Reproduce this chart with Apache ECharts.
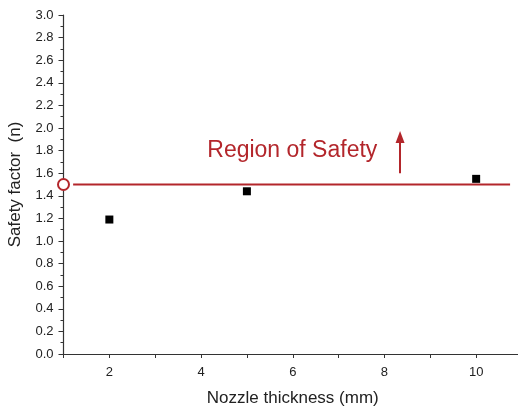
<!DOCTYPE html>
<html>
<head>
<meta charset="utf-8">
<script src="https://cdn.jsdelivr.net/npm/echarts@6/dist/echarts.min.js"></script>
<style>
  html, body { margin: 0; padding: 0; background: #fff; overflow: hidden; }
  #chart { width: 522px; height: 409px; }
</style>
</head>
<body>
<div id="chart"></div>
<script>
  // nozzle thickness (mm) and safety factor
  var thickness = [2, 5, 10];
  var safety = [1.19, 1.44, 1.55];
  var limitValue = 1.5;
  var limitStart = 1.21;
  var limitEnd = 10.74;
  var xTicks = [2, 4, 6, 8, 10];

  var red = '#b3262b';
  var chart = echarts.init(document.getElementById('chart'));

  chart.setOption({
    animation: false,
    textStyle: { fontFamily: 'Liberation Sans, Arial, sans-serif' },
    grid: { left: 63.5, right: 0, top: 15, bottom: 55, outerBoundsMode: 'none', containLabel: false },
    xAxis: {
      type: 'value',
      min: 1,
      max: 11,
      interval: 1,
      name: 'Nozzle thickness (mm)',
      nameLocation: 'middle',
      nameGap: 36,
      nameTextStyle: { fontSize: 17, color: '#222' },
      axisLine: { onZero: false, lineStyle: { color: '#333', width: 1.2 } },
      axisTick: { length: 4, lineStyle: { color: '#333' } },
      axisLabel: {
        fontSize: 13, color: '#222', margin: 12,
        formatter: function (v) { return xTicks.indexOf(v) >= 0 ? String(v) : ''; }
      },
      splitLine: { show: false }
    },
    yAxis: {
      type: 'value',
      min: 0,
      max: 3,
      interval: 0.2,
      name: 'Safety factor  (n)',
      nameLocation: 'middle',
      nameGap: 40,
      nameTextStyle: { fontSize: 17, color: '#222' },
      axisLine: { show: true, lineStyle: { color: '#333', width: 1.2 } },
      axisTick: { length: 5, lineStyle: { color: '#333' } },
      minorTick: { show: true, splitNumber: 2, length: 3, lineStyle: { color: '#333' } },
      axisLabel: {
        fontSize: 13, color: '#222', margin: 10,
        formatter: function (v) { return v.toFixed(1); }
      },
      splitLine: { show: false }
    },
    series: [
      {
        type: 'line',
        data: [[limitStart, limitValue], [limitEnd, limitValue]],
        symbol: 'none',
        lineStyle: { color: red, width: 2 },
        markLine: {
          silent: true,
          symbol: ['none', 'triangle'],
          symbolSize: [9, 12],
          label: { show: false },
          lineStyle: { color: red, width: 2, type: 'solid' },
          data: [[{ coord: [8.34, 1.6] }, { coord: [8.34, 1.92] }]]
        },
        markPoint: {
          symbol: 'circle',
          symbolSize: 0,
          label: {
            show: true,
            formatter: 'Region of Safety',
            fontSize: 23,
            color: red,
            fontFamily: 'Liberation Sans, Arial, sans-serif'
          },
          data: [{ coord: [5.99, 1.8] }]
        }
      },
      {
        type: 'scatter',
        data: [[1, limitValue]],
        symbol: 'emptyCircle',
        symbolSize: 11,
        clip: false,
        itemStyle: { color: red, borderColor: red, borderWidth: 1.2, opacity: 1 }
      },
      {
        type: 'scatter',
        data: thickness.map(function (t, i) { return [t, safety[i]]; }),
        symbol: 'rect',
        symbolSize: 8,
        itemStyle: { color: '#000', opacity: 1 }
      }
    ]
  });
</script>
</body>
</html>
